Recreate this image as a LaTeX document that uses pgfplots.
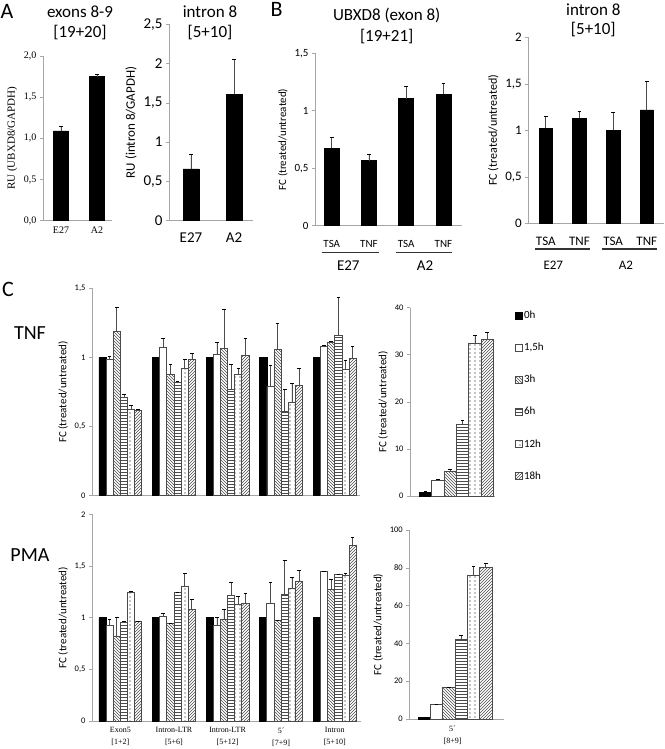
\documentclass[border=0pt]{standalone}
\usepackage{pgfplots}
\pgfplotsset{compat=1.18}
\usepackage{fontspec}
\setmainfont{Carlito}
\newfontfamily\tnr{Liberation Serif}
\usetikzlibrary{patterns}
\pgfdeclarepatternformonly{vdots}{\pgfqpoint{-1pt}{-1pt}}{\pgfqpoint{1pt}{1pt}}{\pgfqpoint{5pt}{4pt}}{\pgfpathcircle{\pgfqpoint{0pt}{0pt}}{0.6pt}\pgfusepath{fill}}
\definecolor{barline}{HTML}{4A4A4A}
\definecolor{axline}{HTML}{A6A6A6}
\newcommand{\fs}[2]{\fontsize{#1}{#2}\selectfont}

\pgfplotsset{
  base/.style={
    scale only axis, anchor=south west, ybar, ymin=0,
    axis x line*=bottom, axis y line*=left,
    axis line style={draw=axline, line width=0.7pt},
    tick align=outside, major tick length=3pt,
    ytick style={draw=axline, line width=0.6pt},
    xtick style={draw=none},
    /pgf/number format/assume math mode=true,
    error bars/y dir=plus, error bars/y explicit,
    error bars/error bar style={gray!60!black, line width=0.7pt},
    error bars/error mark=-,
    error bars/error mark options={rotate=90, black, mark size=1.8pt, line width=0.6pt},
    bar shift=0pt, clip=false,
  },
  h0/.style={fill=black, draw=black, line width=0.6pt},
  h1/.style={fill=white, draw=barline, line width=0.8pt},
  h2/.style={draw=barline, line width=0.8pt, pattern=north west lines, pattern color=barline},
  h3/.style={draw=barline, line width=0.8pt, pattern=horizontal lines, pattern color=barline},
  h4/.style={draw=barline, line width=0.8pt, pattern=vdots, pattern color=black},
  h5/.style={draw=barline, line width=0.8pt, pattern=north east lines, pattern color=barline},
}

\begin{document}
\begin{tikzpicture}
\path[use as bounding box] (0,0) rectangle (664pt,-749pt);

% ---------- A: exons 8-9
\begin{axis}[base, at={(43pt,-220.7pt)}, width=69pt, height=164.7pt,
  xmin=-0.5, xmax=1.42, ymax=2, bar width=0.42,
  ytick={0,0.5,1,1.5,2}, yticklabels={{0,0},{0,5},{1,0},{1,5},{2,0}},
  xtick={0,1}, xticklabels={E27,A2},
  tick label style={font=\tnr\fs{10}{12}},
  ylabel={RU (UBXD8/GAPDH)}, ylabel style={font=\tnr\fs{11}{13}}]
\addplot[h0] coordinates {(0,1.09) +- (0,0.06) (1,1.75) +- (0,0.03)};
\end{axis}

% ---------- A: intron 8
\begin{axis}[base, at={(169pt,-220.7pt)}, width=84pt, height=196.4pt,
  xmin=-0.51, xmax=1.44, ymax=2.5, bar width=0.37,
  ytick={0,0.5,1,1.5,2,2.5}, yticklabels={{0},{0,5},{1},{1,5},{2},{2,5}},
  xtick={0,1}, xticklabels={E27,A2},
  tick label style={font=\fs{15}{17}},
  xticklabel style={yshift=-6pt},
  ylabel={RU (intron 8/GAPDH)}, ylabel style={font=\fs{13}{15}}]
\addplot[h0] coordinates {(0,0.66) +- (0,0.19) (1,1.61) +- (0,0.45)};
\end{axis}

% ---------- B: UBXD8 (exon 8)
\begin{axis}[base, at={(315pt,-225.7pt)}, width=146.7pt, height=172.4pt,
  xmin=-0.45, xmax=3.49, ymax=1.5, bar width=0.4,
  ytick={0,0.5,1,1.5}, yticklabels={{0},{0,5},{1},{1,5}},
  xtick={0,1,2,3}, xticklabels={TSA,TNF,TSA,TNF},
  tick label style={font=\fs{11}{13}},
  xticklabel style={yshift=-8pt},
  ylabel={FC (treated/untreated)}, ylabel style={font=\fs{11}{13}}]
\addplot[h0] coordinates {(0,0.673) +- (0,0.097) (1,0.566) +- (0,0.058)
  (2,1.105) +- (0,0.111) (3,1.143) +- (0,0.097)};
\end{axis}

% ---------- B: intron 8
\begin{axis}[base, at={(528.3pt,-223.3pt)}, width=135.7pt, height=186pt,
  xmin=-0.52, xmax=3.51, ymax=2, bar width=0.4,
  ytick={0,0.5,1,1.5,2}, yticklabels={{0},{0,5},{1},{1,5},{2}},
  xtick={0,1,2,3}, xticklabels={TSA,TNF,TSA,TNF},
  tick label style={font=\fs{13}{15}},
  xticklabel style={yshift=-7pt},
  ylabel={FC (treated/untreated)}, ylabel style={font=\fs{12}{14}}]
\addplot[h0] coordinates {(0,1.02) +- (0,0.13) (1,1.13) +- (0,0.07)
  (2,1.0) +- (0,0.19) (3,1.22) +- (0,0.31)};
\end{axis}

% ---------- C: TNF, five amplicons
\begin{axis}[base, at={(92pt,-495.7pt)}, width=268pt, height=207.4pt,
  xmin=-0.53, xmax=4.47, ymax=1.5, bar width=0.133,
  ytick={0,0.5,1,1.5}, yticklabels={{0},{0,5},{1},{1,5}},
  xtick=\empty,
  tick label style={font=\fs{8.5}{10}},
  ylabel={FC (treated/untreated)}, ylabel style={font=\fs{11}{13}}]
\addplot[h0, bar shift=-0.333] coordinates {(0,1) +- (0,0) (1,1) +- (0,0) (2,1) +- (0,0) (3,1) +- (0,0) (4,1) +- (0,0)};
\addplot[h1, bar shift=-0.2] coordinates {(0,0.985) +- (0,0.025) (1,1.07) +- (0,0.068) (2,1.02) +- (0,0.09) (3,0.79) +- (0,0.15) (4,1.077) +- (0,0.013)};
\addplot[h2, bar shift=-0.067] coordinates {(0,1.19) +- (0,0.175) (1,0.877) +- (0,0.073) (2,1.068) +- (0,0.282) (3,1.056) +- (0,0.19) (4,1.11) +- (0,0.006)};
\addplot[h3, bar shift=0.067] coordinates {(0,0.713) +- (0,0.017) (1,0.816) +- (0,0.012) (2,0.77) +- (0,0.18) (3,0.611) +- (0,0.159) (4,1.162) +- (0,0.275)};
\addplot[h4, bar shift=0.2] coordinates {(0,0.626) +- (0,0.026) (1,0.923) +- (0,0.067) (2,0.874) +- (0,0.049) (3,0.676) +- (0,0.138) (4,0.915) +- (0,0.061)};
\addplot[h5, bar shift=0.333] coordinates {(0,0.616) +- (0,0.007) (1,0.988) +- (0,0.042) (2,1.014) +- (0,0.121) (3,0.80) +- (0,0.123) (4,0.995) +- (0,0.082)};
\end{axis}

% ---------- C: TNF, 5' [8+9]
\begin{axis}[base, at={(410pt,-496pt)}, width=85pt, height=188.3pt,
  xmin=-1.26, xmax=5.63, ymax=40, bar width=1,
  ytick={0,10,20,30,40}, xtick=\empty,
  tick label style={font=\fs{8.5}{10}},
  ylabel={FC (treated/untreated)}, ylabel style={font=\fs{11}{13}},
  legend image code/.code={\draw[#1] (0pt,-3.5pt) rectangle (7pt,3.5pt);},
  legend style={at={(1.2,1.0)}, anchor=north west, draw=none, fill=none,
    font=\fs{11}{13}, row sep=21pt, nodes={inner sep=1pt}},
  legend cell align=left]
\addplot[h0] coordinates {(0,0.8) +- (0,0.2)};
\addplot[h1] coordinates {(1,3.4) +- (0,0.1)};
\addplot[h2] coordinates {(2,5.24) +- (0,0.42)};
\addplot[h3] coordinates {(3,15.15) +- (0,0.85)};
\addplot[h4] coordinates {(4,32.4) +- (0,1.65)};
\addplot[h5] coordinates {(5,33.2) +- (0,1.6)};
\legend{0h,{1,5h},3h,6h,12h,18h}
\end{axis}

% ---------- C: PMA, five amplicons
\begin{axis}[base, at={(92pt,-721pt)}, width=269pt, height=206.7pt,
  xmin=-0.53, xmax=4.49, ymax=2, bar width=0.133,
  ytick={0,0.5,1,1.5,2}, yticklabels={{0},{0,5},{1},{1,5},{2}},
  xtick={0,1,2,3,4},
  xticklabels={{Exon5\\{}[1+2]},{Intron-LTR\\{}[5+6]},{Intron-LTR\\{}[5+12]},{5´\\{}[7+9]},{Intron\\{}[5+10]}},
  yticklabel style={font=\fs{8.5}{10}},
  xticklabel style={font=\tnr\fs{8}{12}, align=center},
  ylabel={FC (treated/untreated)}, ylabel style={font=\fs{11}{13}}]
\addplot[h0, bar shift=-0.333] coordinates {(0,1) +- (0,0) (1,1) +- (0,0) (2,1) +- (0,0) (3,1) +- (0,0) (4,1) +- (0,0)};
\addplot[h1, bar shift=-0.2] coordinates {(0,0.926) +- (0,0.058) (1,1.016) +- (0,0.024) (2,0.926) +- (0,0.074) (3,1.139) +- (0,0.206) (4,1.452) +- (0,0)};
\addplot[h2, bar shift=-0.067] coordinates {(0,0.823) +- (0,0.177) (1,0.942) +- (0,0.008) (2,0.984) +- (0,0.096) (3,0.974) +- (0,0) (4,1.274) +- (0,0.097)};
\addplot[h3, bar shift=0.067] coordinates {(0,0.958) +- (0,0.003) (1,1.242) +- (0,0.008) (2,1.213) +- (0,0.129) (3,1.226) +- (0,0.332) (4,1.419) +- (0,0.003)};
\addplot[h4, bar shift=0.2] coordinates {(0,1.248) +- (0,0.007) (1,1.30) +- (0,0.129) (2,1.129) +- (0,0.081) (3,1.284) +- (0,0.106) (4,1.406) +- (0,0.023)};
\addplot[h5, bar shift=0.333] coordinates {(0,0.961) +- (0,0) (1,1.077) +- (0,0.1) (2,1.135) +- (0,0.1) (3,1.355) +- (0,0.1) (4,1.703) +- (0,0.074)};
\end{axis}

% ---------- C: PMA, 5' [8+9]
\begin{axis}[base, at={(409.3pt,-719pt)}, width=95pt, height=189pt,
  xmin=-1.21, xmax=6.5, ymax=100, bar width=1,
  ytick={0,20,40,60,80,100},
  xtick={2.3}, xticklabels={{5´\\{}[8+9]}},
  yticklabel style={font=\fs{8.5}{10}},
  xticklabel style={font=\tnr\fs{8}{12}, align=center},
  ylabel={FC (treated/untreated)}, ylabel style={font=\fs{11}{13}}]
\addplot[h0] coordinates {(0,1.0) +- (0,0)};
\addplot[h1] coordinates {(1,7.9) +- (0,0)};
\addplot[h2] coordinates {(2,16.6) +- (0,0)};
\addplot[h3] coordinates {(3,42.2) +- (0,2.2)};
\addplot[h4] coordinates {(4,76) +- (0,5)};
\addplot[h5] coordinates {(5,80.4) +- (0,2)};
\end{axis}

% ---------- titles and panel letters
\node[font=\fs{22}{24}] at (7pt,-11.7pt) {A};
\node[font=\fs{22}{24}] at (276.7pt,-9pt) {B};
\node[font=\fs{22}{24}] at (8pt,-289pt) {C};
\node[font=\fs{17}{20}] at (80pt,-12pt) {exons 8-9};
\node[font=\fs{17}{20}] at (80pt,-33pt) {[19+20]};
\node[font=\fs{17}{20}] at (210pt,-12pt) {intron 8};
\node[font=\fs{17}{20}] at (210pt,-33pt) {[5+10]};
\node[font=\fs{17}{20}] at (386.7pt,-15pt) {UBXD8 (exon 8)};
\node[font=\fs{17}{20}] at (386.7pt,-37pt) {[19+21]};
\node[font=\fs{17}{20}] at (593.3pt,-10pt) {intron 8};
\node[font=\fs{17}{20}] at (593.3pt,-30pt) {[5+10]};
\node[font=\fs{20}{22}] at (30pt,-333pt) {TNF};
\node[font=\fs{20}{22}] at (30pt,-555pt) {PMA};

% ---------- cell line groups under panel B
\draw[black!80, line width=1pt] (321.7pt,-252pt) -- (379pt,-252pt);
\draw[black!80, line width=1pt] (396pt,-252pt) -- (452pt,-252pt);
\node[font=\fs{15}{17}] at (348.3pt,-266pt) {E27};
\node[font=\fs{15}{17}] at (425pt,-266pt) {A2};
\draw[black!80, line width=1.3pt] (535pt,-249pt) -- (590pt,-249pt);
\draw[black!80, line width=1.3pt] (601.7pt,-249pt) -- (656.7pt,-249pt);
\node[font=\fs{13}{15}] at (553.3pt,-265pt) {E27};
\node[font=\fs{13}{15}] at (626pt,-265pt) {A2};
\end{tikzpicture}
\end{document}
